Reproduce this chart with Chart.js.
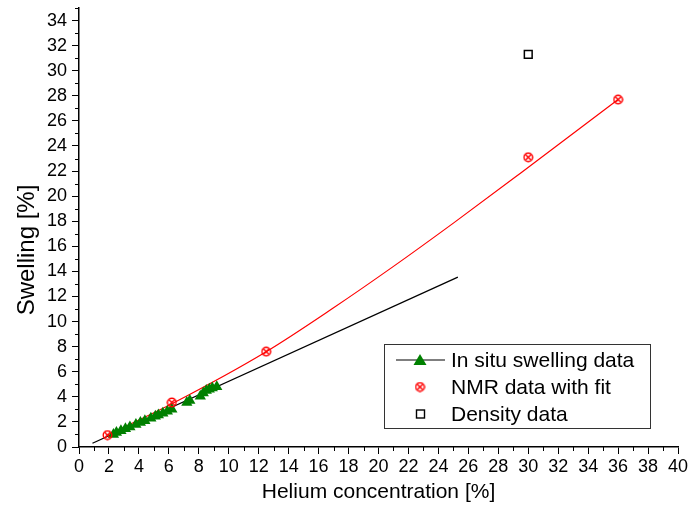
<!DOCTYPE html>
<html>
<head>
<meta charset="utf-8">
<script src="https://cdn.jsdelivr.net/npm/chart.js@4.4.0/dist/chart.umd.min.js"></script>
<style>
  html, body { margin: 0; padding: 0; background: #fff; }
</style>
</head>
<body>
<canvas id="chart" width="688" height="515"></canvas>
<script>
// in situ swelling data (green triangles)
const insituX = [2.3, 2.5, 2.8, 3.1, 3.4, 3.8, 4.1, 4.4, 4.8, 5.1, 5.3, 5.6, 5.9, 6.2, 7.2, 7.4, 8.1, 8.3, 8.5, 8.7, 8.9, 9.2];
const insituY = [1.0, 1.15, 1.3, 1.45, 1.6, 1.8, 1.95, 2.1, 2.3, 2.45, 2.55, 2.7, 2.85, 3.0, 3.55, 3.7, 4.05, 4.3, 4.5, 4.6, 4.7, 4.8];
// linear fit through in situ data
const insituFitX = [0.9, 25.3];
const insituFitY = [0.3, 13.55];
// NMR points and fit curve
const nmrX = [1.9, 6.2, 12.5, 30.0, 36.0];
const nmrY = [0.95, 3.55, 7.6, 23.1, 27.7];
const nmrFitX = [1.9, 6.2, 12.5, 17, 21, 25, 29.5, 36];
const nmrFitY = [0.95, 3.45, 7.6, 11.1, 14.4, 17.85, 21.85, 27.7];
// density
const densityX = [30.0];
const densityY = [31.3];

const xTicks = [0, 2, 4, 6, 8, 10, 12, 14, 16, 18, 20, 22, 24, 26, 28, 30, 32, 34, 36, 38, 40];
const yTicks = [0, 2, 4, 6, 8, 10, 12, 14, 16, 18, 20, 22, 24, 26, 28, 30, 32, 34];

const legendLabels = ['In situ swelling data', 'NMR data with fit', 'Density data'];
const yTitle = 'Swelling [%]';

const pts = (xs, ys) => xs.map((x, i) => ({ x: x, y: ys[i] }));

// circle with a cross inside, red
function nmrSymbol() {
  const c = document.createElement('canvas');
  c.width = 11; c.height = 11;
  const g = c.getContext('2d');
  g.strokeStyle = '#ff0000';
  g.lineWidth = 1.4;
  g.beginPath(); g.arc(5.5, 5.5, 4.3, 0, Math.PI * 2); g.stroke();
  g.beginPath();
  g.moveTo(2.7, 2.7); g.lineTo(8.3, 8.3);
  g.moveTo(8.3, 2.7); g.lineTo(2.7, 8.3);
  g.stroke();
  return c;
}
const nmrPoint = nmrSymbol();

const font = 'Arial, "Liberation Sans", sans-serif';

// minor ticks on odd values, y title, legend box
const extras = {
  id: 'extras',
  afterDraw(chart) {
    const ctx = chart.ctx;
    const xs = chart.scales.x, ys = chart.scales.y;
    const area = chart.chartArea;
    ctx.save();
    ctx.strokeStyle = '#000';
    ctx.lineWidth = 1;
    for (let v = 1; v < 40; v += 2) {
      const px = Math.round(xs.getPixelForValue(v)) + 0.5;
      ctx.beginPath(); ctx.moveTo(px, area.bottom); ctx.lineTo(px, area.bottom + 4); ctx.stroke();
    }
    for (let v = 1; v <= 35; v += 2) {
      const py = Math.round(ys.getPixelForValue(v)) + 0.5;
      ctx.beginPath(); ctx.moveTo(area.left, py); ctx.lineTo(area.left - 4, py); ctx.stroke();
    }

    // y axis title
    ctx.save();
    ctx.translate(27, 250);
    ctx.rotate(-Math.PI / 2);
    ctx.font = '24px ' + font;
    ctx.fillStyle = '#000';
    ctx.textAlign = 'center';
    ctx.textBaseline = 'middle';
    ctx.fillText(yTitle, 0, 0);
    ctx.restore();

    // legend
    const bx = 384.5, by = 344.5, bw = 266, bh = 84;
    ctx.strokeStyle = '#333';
    ctx.lineWidth = 1;
    ctx.strokeRect(bx, by, bw, bh);
    ctx.font = '21px ' + font;
    ctx.textBaseline = 'middle';
    const rows = [360, 387, 414];
    const textX = 451;
    // row 1: line + triangle
    ctx.strokeStyle = '#000';
    ctx.lineWidth = 1.2;
    ctx.beginPath(); ctx.moveTo(396, rows[0]); ctx.lineTo(445, rows[0]); ctx.stroke();
    ctx.fillStyle = '#008000';
    ctx.beginPath();
    ctx.moveTo(420, rows[0] - 6); ctx.lineTo(426.5, rows[0] + 5); ctx.lineTo(413.5, rows[0] + 5);
    ctx.closePath(); ctx.fill();
    // row 2: nmr symbol
    ctx.drawImage(nmrPoint, 420 - 5.5, rows[1] - 5.5);
    // row 3: open square
    ctx.strokeStyle = '#000';
    ctx.lineWidth = 1.4;
    ctx.strokeRect(416.5, rows[2] - 4, 8, 8);
    ctx.fillStyle = '#000';
    legendLabels.forEach((t, i) => ctx.fillText(t, textX, rows[i] + 1));
    ctx.restore();
  }
};

new Chart(document.getElementById('chart').getContext('2d'), {
  type: 'scatter',
  data: {
    datasets: [
      {
        label: 'In situ fit',
        data: pts(insituFitX, insituFitY),
        showLine: true,
        borderColor: '#000',
        borderWidth: 1.3,
        pointRadius: 0,
        order: 3
      },
      {
        label: 'NMR fit',
        data: pts(nmrFitX, nmrFitY),
        showLine: true,
        borderColor: '#ff0000',
        borderWidth: 1.2,
        cubicInterpolationMode: 'monotone',
        pointRadius: 0,
        order: 4
      },
      {
        label: legendLabels[0],
        data: pts(insituX, insituY),
        pointStyle: 'triangle',
        pointRadius: 6.5,
        backgroundColor: '#008000',
        borderColor: '#008000',
        borderWidth: 0,
        order: 2
      },
      {
        label: legendLabels[1],
        data: pts(nmrX, nmrY),
        pointStyle: nmrPoint,
        order: 1
      },
      {
        label: legendLabels[2],
        data: pts(densityX, densityY),
        pointStyle: 'rect',
        pointRadius: 5.5,
        backgroundColor: '#fff',
        borderColor: '#000',
        borderWidth: 1.5,
        order: 0
      }
    ]
  },
  options: {
    responsive: false,
    animation: false,
    layout: { padding: { top: 8, right: 10, left: 0, bottom: 0 } },
    plugins: {
      legend: { display: false },
      tooltip: { enabled: false }
    },
    scales: {
      x: {
        type: 'linear',
        min: 0, max: 40,
        afterFit: s => { s.height = 68; s.paddingRight = 0; s.paddingLeft = 0; },
        afterBuildTicks: s => { s.ticks = xTicks.map(v => ({ value: v })); },
        border: { color: '#000', width: 1.5 },
        grid: { drawOnChartArea: false, tickLength: 7, color: '#000', tickWidth: 1 },
        ticks: { color: '#000', font: { family: font, size: 18 }, padding: 2, maxRotation: 0, autoSkip: false },
        title: { display: true, text: 'Helium concentration [%]', color: '#000', font: { family: font, size: 21 }, padding: { top: 0, bottom: 10 } }
      },
      y: {
        type: 'linear',
        min: 0, max: 35,
        afterFit: s => { s.width = 79; s.paddingTop = 0; s.paddingBottom = 0; },
        afterBuildTicks: s => { s.ticks = yTicks.map(v => ({ value: v })); },
        border: { color: '#000', width: 1.5 },
        grid: { drawOnChartArea: false, tickLength: 7, color: '#000', tickWidth: 1 },
        ticks: { color: '#000', font: { family: font, size: 18 }, padding: 5, autoSkip: false }
      }
    }
  },
  plugins: [extras]
});
</script>
</body>
</html>
